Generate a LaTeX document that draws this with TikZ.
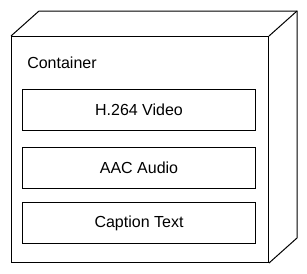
\documentclass[tikz,border=0pt]{standalone}
\usepackage{fontspec}
\setmainfont{Liberation Sans}
\usetikzlibrary{positioning,calc}

\begin{document}
\begin{tikzpicture}[
   x=0.75pt, y=-0.75pt,
   node distance=12.75pt,
   face/.style={draw, line width=0.75pt, inner sep=0pt},
   stream/.style={draw, line width=0.75pt, minimum width=174.75pt,
                  minimum height=30.75pt, inner sep=0pt, outer sep=0pt,
                  align=center, font=\fontsize{12}{14}\selectfont}]
  \useasboundingbox (0,0) rectangle (307,273);
  % front face of the container
  \node[face, minimum width=192.75pt, minimum height=169.5pt,
        anchor=north west] (front) at (11,36) {};
  \draw[line width=0.75pt, line join=miter] (front.north west) -- ++(28,-25)
    -- ($(front.north east)+(28,-25)$) -- ($(front.south east)+(28,-25)$)
    -- (front.south east);
  \draw[line width=0.75pt] (front.north east) -- ++(28,-25);
  \node[anchor=west, inner sep=0pt, font=\fontsize{12}{14}\selectfont]
    (title) at (27,63) {Container};

  \node[stream, anchor=north west] (video) at (22.5,89.5) {H.264 Video};
  \node[stream, below=of video] (audio) {AAC Audio};
  \node[stream, below=10.5pt of audio] (caption) {Caption Text};
\end{tikzpicture}
\end{document}
